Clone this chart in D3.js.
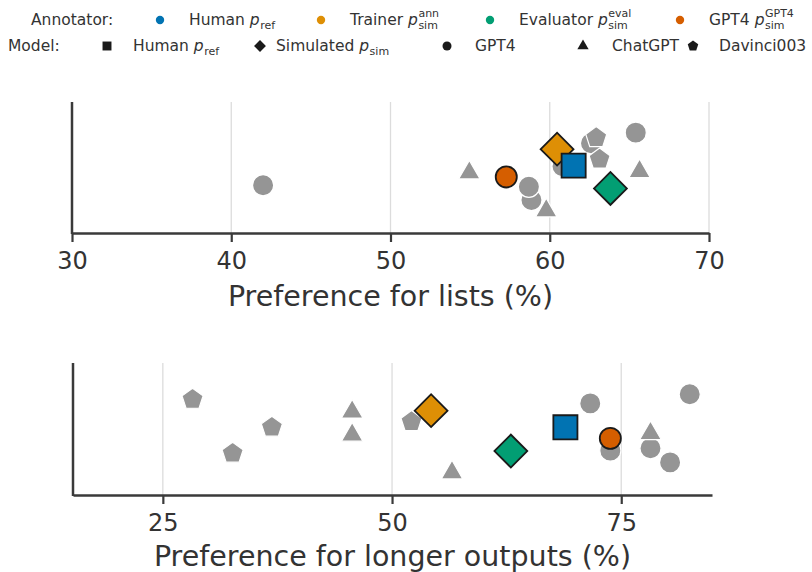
<!DOCTYPE html>
<html>
<head>
<meta charset="utf-8">
<script src="https://cdn.jsdelivr.net/npm/d3@7"></script>
<style>
  body { margin: 0; background: #fff; }
  svg text { font-family: "DejaVu Sans", sans-serif; fill: #333; }
</style>
</head>
<body>
<svg id="chart" width="812" height="572"></svg>
<script>
/* ---------- data ---------- */
// top panel: preference for lists
const listsModel  = ["gpt4","chatgpt","gpt4","gpt4","chatgpt","gpt4","gpt4","davinci","davinci","gpt4","chatgpt","sim","sim","human","gpt4"];
const listsAnnot  = [null,null,null,null,null,null,null,null,null,null,null,"trainer","evaluator","human","gpt4"];
const listsValue  = [42.0,54.95,58.85,58.69,59.78,60.8,62.59,62.92,63.13,65.4,65.64,60.46,63.81,61.5,57.27];
const listsJitter = [0.365,0.46,0.252,0.353,0.17,0.51,0.685,0.728,0.564,0.766,0.47,0.64,0.34,0.514,0.428];

// bottom panel: preference for longer outputs
const lengthModel  = ["davinci","davinci","davinci","chatgpt","chatgpt","davinci","chatgpt","gpt4","gpt4","gpt4","chatgpt","gpt4","gpt4","sim","sim","human","gpt4"];
const lengthAnnot  = [null,null,null,null,null,null,null,null,null,null,null,null,null,"trainer","evaluator","human","gpt4"];
const lengthValue  = [28.24,32.61,36.89,45.65,45.65,52.12,56.54,71.62,73.81,78.19,78.19,80.33,82.47,54.26,62.96,68.91,73.81];
const lengthJitter = [0.725,0.316,0.513,0.63,0.455,0.556,0.169,0.694,0.336,0.354,0.467,0.247,0.763,0.639,0.333,0.513,0.429];

const listsTicks  = [30,40,50,60,70];
const lengthTicks = [25,50,75];

// legend
const annotKeys  = ["human","trainer","evaluator","gpt4"];
const annotNames = ["Human","Trainer","Evaluator","GPT4"];
const annotSub   = ["ref","sim","sim","sim"];
const annotSup   = ["","ann","eval","GPT4"];
const modelKeys  = ["human","sim","gpt4","chatgpt","davinci"];
const modelNames = ["Human","Simulated","GPT4","ChatGPT","Davinci003"];
const modelSub   = ["ref","sim","","",""];

/* ---------- styling ---------- */
const annotColor = { human:"#0173b2", trainer:"#de8f05", evaluator:"#029e73", gpt4:"#d55e00" };
const grey = "#959595";

const symbolPentagon = {
  draw(ctx, size) {
    const r = Math.sqrt(size / 2.3776);
    for (let i = 0; i < 5; i++) {
      const a = -Math.PI/2 + i * 2*Math.PI/5;
      i ? ctx.lineTo(r*Math.cos(a), r*Math.sin(a)) : ctx.moveTo(r*Math.cos(a), r*Math.sin(a));
    }
    ctx.closePath();
  }
};
const shapeOf = { human:d3.symbolSquare, sim:d3.symbolSquare, gpt4:d3.symbolCircle, chatgpt:d3.symbolTriangle, davinci:symbolPentagon };
const bigSize  = { human:580, sim:540, gpt4:350, chatgpt:200, davinci:290 };
const keySize  = { human:80, sim:70, gpt4:64, chatgpt:55, davinci:72 };

const svg = d3.select("#chart");

/* ---------- panels ---------- */
function panel(opt) {
  const x = d3.scaleLinear().domain(opt.domain).range(opt.xr);
  const y = d3.scaleLinear().domain([0,1]).range(opt.yr);
  const g = svg.append("g");

  // grid
  g.selectAll(".grid").data(opt.ticks).join("line")
    .attr("x1", d => x(d)).attr("x2", d => x(d))
    .attr("y1", opt.yr[1]).attr("y2", opt.yr[0])
    .attr("stroke", "#dcdcdc").attr("stroke-width", 1.3);

  // x axis
  const ax = g.append("g").attr("transform", `translate(0,${opt.yr[0]})`)
    .call(d3.axisBottom(x).tickValues(opt.ticks).tickSize(9).tickSizeOuter(0).tickPadding(10));
  ax.select(".domain").attr("stroke", "#3a3a3a").attr("stroke-width", 2.5);
  ax.selectAll(".tick line").attr("stroke", "#3a3a3a").attr("stroke-width", 2.2);
  ax.selectAll(".tick text").attr("font-size", 24).attr("fill", "#333")
    .attr("font-family", "DejaVu Sans, sans-serif");

  // left spine
  g.append("line").attr("x1", opt.xr[0]).attr("x2", opt.xr[0])
    .attr("y1", opt.yr[1]).attr("y2", opt.yr[0] + 1)
    .attr("stroke", "#3a3a3a").attr("stroke-width", 2.5);

  // x label
  g.append("text").attr("x", (opt.xr[0] + opt.xr[1]) / 2).attr("y", opt.labelY)
    .attr("text-anchor", "middle").attr("font-size", 28.5).text(opt.label);

  // points
  const pts = opt.value.map((v, i) => ({ v, j: opt.jitter[i], m: opt.model[i], a: opt.annot[i] }));
  g.selectAll(".pt").data(pts).join("path")
    .attr("d", d => d3.symbol(shapeOf[d.m], bigSize[d.m])())
    .attr("transform", d => `translate(${x(d.v)},${y(d.j)})` + (d.m === "sim" ? " rotate(45)" : ""))
    .attr("fill", d => d.a ? annotColor[d.a] : grey)
    .attr("stroke", d => d.a ? "#1a1a1a" : "#fff")
    .attr("stroke-width", d => d.a ? 1.8 : 1.2);
}

panel({ domain:[30,70], xr:[72,709], yr:[233,102], ticks:listsTicks,
        label:"Preference for lists (%)", labelY:306,
        value:listsValue, jitter:listsJitter, model:listsModel, annot:listsAnnot });

panel({ domain:[15.2,84.9], xr:[73,712], yr:[495,363], ticks:lengthTicks,
        label:"Preference for longer outputs (%)", labelY:566,
        value:lengthValue, jitter:lengthJitter, model:lengthModel, annot:lengthAnnot });

/* ---------- legend ---------- */
const lg = svg.append("g").attr("font-size", 15.5);

function pLabel(x, y, name, sub, sup) {
  const t = lg.append("text").attr("x", x).attr("y", y).attr("font-size", 15.5);
  t.append("tspan").text(name);
  if (!sub) return;
  t.append("tspan").text(" ");
  t.append("tspan").attr("font-style", "italic").text("p");
  const end = x + t.node().getComputedTextLength() + 0.5;
  lg.append("text").attr("x", end).attr("y", y + 4).attr("font-size", 11).text(sub);
  if (sup) lg.append("text").attr("x", end).attr("y", y - 8).attr("font-size", 11).text(sup);
}

const row1 = 25, row2 = 51;
lg.append("text").attr("x", 31).attr("y", row1).text("Annotator:");
lg.append("text").attr("x", 8).attr("y", row2).text("Model:");

const annotMarkX = [160, 321, 490, 680];
annotKeys.forEach((k, i) => {
  lg.append("path").attr("d", d3.symbol(d3.symbolCircle, 55)())
    .attr("transform", `translate(${annotMarkX[i]},${row1 - 5})`).attr("fill", annotColor[k]);
  pLabel(annotMarkX[i] + 29, row1, annotNames[i], annotSub[i], annotSup[i]);
});

const modelMarkX = [107, 260, 447, 583, 693];
const modelTextX = [133, 276, 475, 612, 719];
modelKeys.forEach((k, i) => {
  lg.append("path").attr("d", d3.symbol(shapeOf[k], keySize[k])())
    .attr("transform", `translate(${modelMarkX[i]},${row2 - 5})` + (k === "sim" ? " rotate(45)" : ""))
    .attr("fill", "#1a1a1a");
  pLabel(modelTextX[i], row2, modelNames[i], modelSub[i], "");
});
</script>
</body>
</html>
